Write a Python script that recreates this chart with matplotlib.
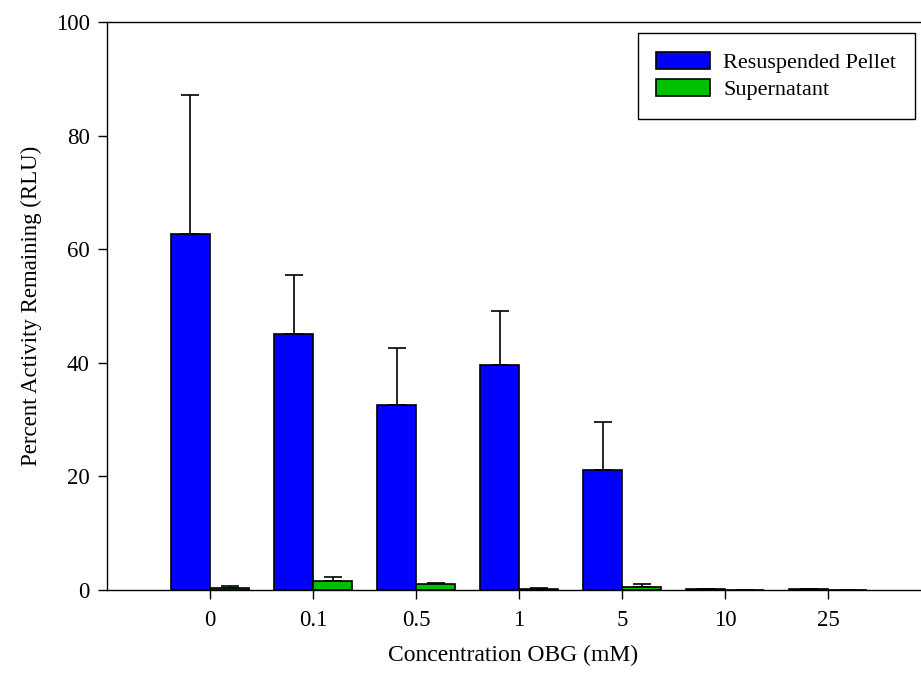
import matplotlib
matplotlib.use("Agg")
import matplotlib.pyplot as plt
import numpy as np

categories = ["0", "0.1", "0.5", "1", "5", "10", "25"]
pellet = [62.7, 45.1, 32.6, 39.7, 21.1, 0.1, 0.1]
pellet_err = [24.5, 10.3, 10.0, 9.4, 8.5, 0.0, 0.0]
supernatant = [0.4, 1.6, 1.0, 0.25, 0.6, 0.05, 0.05]
supernatant_err = [0.25, 0.7, 0.15, 0.05, 0.5, 0.0, 0.0]

plt.rcParams['font.family'] = ['Liberation Serif', 'DejaVu Serif']

fig = plt.figure(figsize=(9.21, 6.76), dpi=100)
ax = fig.add_axes([107/921, 1-590/676, (920-107)/921, (590-22)/676])

x = np.arange(len(categories))
w = 0.38
ax.bar(x - w/2, pellet, w, color='#0000FF', edgecolor='black', linewidth=1.2,
       label='Resuspended Pellet', zorder=2)
ax.bar(x + w/2, supernatant, w, color='#00C000', edgecolor='black', linewidth=1.2,
       label='Supernatant', zorder=2)
ax.errorbar(x - w/2, pellet, yerr=[np.zeros(len(x)), pellet_err], fmt='none',
            ecolor='black', elinewidth=1.2, capsize=6.5, capthick=1.2, zorder=1)
ax.errorbar(x + w/2, supernatant, yerr=[np.zeros(len(x)), supernatant_err], fmt='none',
            ecolor='black', elinewidth=1.2, capsize=6.5, capthick=1.2, zorder=1)

ax.set_xlim(-1.0, 6.89)
ax.set_ylim(0, 100)
ax.set_xticks(x)
ax.set_xticklabels(categories)
ax.set_yticks([0, 20, 40, 60, 80, 100])
ax.tick_params(direction='out', length=6.5, width=1.0, labelsize=16.5)
ax.tick_params(axis='x', pad=8)
ax.tick_params(axis='y', pad=6)
ax.spines['right'].set_visible(False)
for s in ['left', 'bottom', 'top']:
    ax.spines[s].set_linewidth(1.0)

ax.set_xlabel('Concentration OBG (mM)', fontsize=17, labelpad=10)
ax.set_ylabel('Percent Activity Remaining (RLU)', fontsize=16.5, labelpad=10)

leg = ax.legend(loc='upper right', bbox_to_anchor=((915-107)/813, (590-33)/568),
                borderaxespad=0, fontsize=16, frameon=True, fancybox=False,
                edgecolor='black', framealpha=1, handlelength=2.4, handleheight=0.8,
                borderpad=0.85, labelspacing=0.25, handletextpad=0.6)
leg.get_frame().set_linewidth(1.0)

fig.savefig('out.png', dpi=100)
